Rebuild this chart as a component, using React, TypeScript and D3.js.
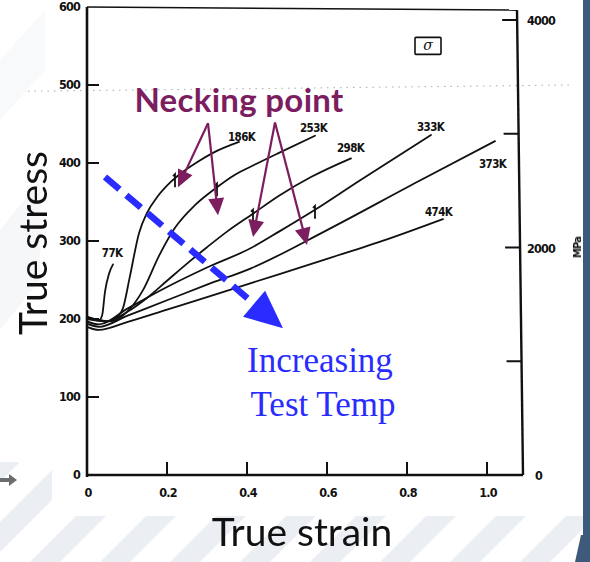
import React from "react";
import * as d3 from "d3";

const W = 590;
const H = 562;

// axis ticks
const stressTicks = [0, 100, 200, 300, 400, 500, 600];
const strainTicks = [0, 0.2, 0.4, 0.6, 0.8, 1.0];
const mpaTicks = [1000, 2000, 3000, 4000];
const mpaLabels = [0, 2000, 4000];

// [strain, stress]
const curve77K = [[0, 202], [0.03, 198], [0.038, 205], [0.045, 235], [0.055, 258], [0.065, 270]];
const curve186K = [[0, 203], [0.05, 197], [0.08, 205], [0.09, 214], [0.107, 254], [0.13, 310], [0.15, 336], [0.175, 356], [0.21, 376], [0.23, 385], [0.275, 401], [0.315, 413], [0.38, 427]];
const curve253K = [[0, 202], [0.06, 197], [0.1, 209], [0.14, 237], [0.18, 281], [0.22, 317], [0.27, 346], [0.32, 367], [0.37, 385], [0.42, 398], [0.48, 413], [0.57, 435]];
const curve298K = [[0, 200], [0.05, 197], [0.1, 209], [0.15, 227], [0.2, 249], [0.25, 271], [0.3, 292], [0.35, 312], [0.415, 335], [0.48, 358], [0.56, 382], [0.66, 406]];
const curve333K = [[0, 197], [0.03, 193], [0.1, 213], [0.2, 241], [0.3, 266], [0.41, 291], [0.48, 312], [0.57, 340], [0.68, 377], [0.86, 436]];
const curve373K = [[0, 194], [0.03, 190], [0.1, 204], [0.2, 224], [0.3, 244], [0.41, 265], [0.6, 314], [0.83, 377], [1.02, 428]];
const curve474K = [[0, 190], [0.03, 186], [0.1, 196], [0.2, 212], [0.3, 228], [0.41, 246], [0.6, 277], [0.75, 302], [0.89, 328]];

const tempNames = ["77K", "186K", "253K", "298K", "333K", "373K", "474K"];
const curves = [curve77K, curve186K, curve253K, curve298K, curve333K, curve373K, curve474K];
// label anchor [strain, stress] (text start, baseline)
const labelAt = [[0.037, 279], [0.3525, 428], [0.5325, 440], [0.625, 414], [0.825, 441], [0.98, 394], [0.845, 332]];
// necking strain on curves 186K..333K
const neckCurves = ["186K", "253K", "298K", "333K"];
const neckStrain = [0.22, 0.325, 0.415, 0.57];

// annotation arrows (strain, stress)
const neckFrom = [[0.3025, 451], [0.3025, 451], [0.47, 452], [0.47, 452]];
const neckTip = [[0.2275, 369], [0.3275, 333], [0.415, 305], [0.55, 295]];
const tempArrow = [[0.045, 382], [0.49, 188]];

const x = d3.scaleLinear().domain([0, 1.09]).range([87, 523]);
const y = d3.scaleLinear().domain([0, 600]).range([475, 7]);
const yR = d3.scaleLinear().domain([0, 4000]).range([475, 20]);

const line = d3
  .line<number[]>()
  .x((d) => x(d[0]))
  .y((d) => y(d[1]))
  .curve(d3.curveMonotoneX);

const tickFont = "'DejaVu Sans Condensed', 'DejaVu Sans', sans-serif";
const purple = "#7c1d60";
const blue = "#2a2cff";

// scanned right axis leans a little
const rightAxisX = (py: number) => x(1.09) + (x(1.075) - x(1.09)) * (y(0) - py) / (y(0) - y(596));

function interp(c: number[][], s: number) {
  for (let i = 1; i < c.length; i++) {
    if (s <= c[i][0]) {
      const t = (s - c[i - 1][0]) / (c[i][0] - c[i - 1][0]);
      return c[i - 1][1] + t * (c[i][1] - c[i - 1][1]);
    }
  }
  return c[c.length - 1][1];
}

function Arrow({ x1, y1, x2, y2, color, len, half, width, dash }: any) {
  const a = Math.atan2(y2 - y1, x2 - x1);
  const bx = x2 - len * Math.cos(a);
  const by = y2 - len * Math.sin(a);
  const px = -Math.sin(a) * half;
  const py = Math.cos(a) * half;
  return (
    <g>
      <line x1={x1} y1={y1} x2={bx + Math.cos(a) * 2} y2={by + Math.sin(a) * 2} stroke={color} strokeWidth={width} strokeDasharray={dash} />
      <path d={`M${x2},${y2}L${bx + px},${by + py}L${bx - px},${by - py}Z`} fill={color} />
    </g>
  );
}

export default function App() {
  const stripes = d3.range(-6, 14);
  return (
    <svg width={W} height={H} style={{ display: "block", position: "absolute", left: 0, top: 0 }}>
      <rect width={W} height={H} fill="#ffffff" />
      {/* faint slide stripes */}
      <g fill="#e7ebf2" opacity={0.8}>
        {stripes.map((i) => (
          <path key={i} d={`M${i * 70 - 40},${H}L${i * 70 - 10},${H}L${i * 70 + 90},${H - 100}L${i * 70 + 60},${H - 100}Z`} />
        ))}
        <path d="M0,330L0,230L40,180L40,280Z" opacity={0.5} />
        <path d="M0,120L0,60L45,10L45,70Z" opacity={0.35} />
      </g>
      {/* scanned page area */}
      <rect x={52} y={0} width={531} height={516} fill="#ffffff" />
      {/* right slide bar */}
      <path d={`M583,0L${W},0L${W},${H}L575,${H}L581,535L583,535Z`} fill="#3e5a7a" />
      {/* gray arrow at left */}
      <path d="M0,478L9,478L9,474L17,480L9,486L9,482L0,482Z" fill="#6d6d6d" />

      {/* dotted reference line */}
      <line x1={28} y1={y(492)} x2={570} y2={y(500)} stroke="#8a8a8a" strokeWidth={1} strokeDasharray="1.5 5" opacity={0.7} />

      {/* frame */}
      <g stroke="#111" fill="none">
        <line x1={x(0)} y1={y(600)} x2={x(0)} y2={y(0) + 2} strokeWidth={2.6} />
        <line x1={x(0)} y1={y(0)} x2={x(1.09)} y2={y(0)} strokeWidth={2.6} />
        <line x1={x(1.09)} y1={y(0)} x2={x(1.075)} y2={y(596)} strokeWidth={2.4} />
        <line x1={x(0)} y1={y(600)} x2={x(1.075)} y2={y(596)} strokeWidth={1.6} />
        {stressTicks.filter((t) => t > 0 && t < 600).map((t) => (
          <line key={t} x1={x(0)} x2={x(0) + 12} y1={y(t)} y2={y(t)} strokeWidth={2} />
        ))}
        {strainTicks.filter((t) => t > 0).map((t) => (
          <line key={t} x1={x(t)} x2={x(t)} y1={y(0)} y2={y(0) - 13} strokeWidth={2} />
        ))}
        {mpaTicks.map((t) => (
          <line key={t} x1={rightAxisX(yR(t)) - 15} x2={rightAxisX(yR(t))} y1={yR(t)} y2={yR(t)} strokeWidth={2} />
        ))}
      </g>

      {/* tick labels */}
      <g fontFamily={tickFont} fontWeight="bold" fontSize={12.5} fill="#111" letterSpacing={-0.8}>
        {stressTicks.map((t) => (
          <text key={t} x={x(0) - 7} y={y(t) + 4} textAnchor="end">{t}</text>
        ))}
        {strainTicks.map((t) => (
          <text key={t} x={x(t) + 1} y={y(0) + 22} textAnchor="middle">{t === 0 ? "0" : t.toFixed(1)}</text>
        ))}
        {mpaLabels.map((t) => (
          <text key={t} x={x(1.09) + (t === 0 ? 12 : 4)} y={yR(t) + 5} textAnchor="start">{t}</text>
        ))}
        <text transform={`translate(${x(1.09) + 58},${yR(2000)}) rotate(-90)`} textAnchor="middle" fontSize={11}>MPa</text>
      </g>

      {/* sigma box */}
      <rect x={x(0.82)} y={y(561)} width={26} height={17} fill="none" stroke="#111" strokeWidth={1.6} rx={1} />
      <text x={x(0.82) + 13} y={y(561) + 13} textAnchor="middle" fontFamily="'DejaVu Serif', serif" fontStyle="italic" fontSize={14} fill="#111">σ</text>

      {/* curves */}
      <g fill="none" stroke="#111" strokeWidth={1.8} strokeLinecap="round">
        {curves.map((c, i) => (
          <path key={tempNames[i]} d={line(c as any) || ""} />
        ))}
      </g>
      {/* necking markers */}
      <g fill="none" stroke="#111" strokeWidth={1.8}>
        {neckCurves.map((n, i) => {
          const c = curves[tempNames.indexOf(n)];
          const px = x(neckStrain[i]);
          const py = y(interp(c, neckStrain[i]));
          return <path key={n} d={`M${px - 2},${py - 2}L${px},${py - 4}L${px},${py + 9}`} />;
        })}
      </g>
      <g fontFamily={tickFont} fontWeight="bold" fontSize={11.5} fill="#111" letterSpacing={-0.6}>
        {tempNames.map((n, i) => (
          <text key={n} x={x(labelAt[i][0])} y={y(labelAt[i][1])}>{n}</text>
        ))}
      </g>

      {/* blue dashed arrow */}
      <Arrow
        x1={x(tempArrow[0][0])} y1={y(tempArrow[0][1])}
        x2={x(tempArrow[1][0])} y2={y(tempArrow[1][1])}
        color={blue} len={38} half={17} width={6.5} dash="19 9"
      />
      <g fontFamily="'Liberation Serif', 'Times New Roman', serif" fontSize={35} fill={blue} textAnchor="middle">
        <text x={320} y={372}>Increasing</text>
        <text x={323} y={416}>Test Temp</text>
      </g>

      {/* necking annotation */}
      <g>
        {neckTip.map((t, i) => (
          <Arrow key={i}
            x1={x(neckFrom[i][0])} y1={y(neckFrom[i][1])}
            x2={x(t[0])} y2={y(t[1])}
            color={purple} len={17} half={8} width={2.2}
          />
        ))}
      </g>
      <text x={239} y={112} textAnchor="middle" fontFamily="Lato, 'Open Sans', sans-serif" fontWeight="bold" fontSize={33} letterSpacing={0.3} fill={purple}>Necking point</text>

      {/* axis titles */}
      <g fontFamily="Lato, 'Noto Sans', sans-serif" fontSize={39} fill="#111">
        <text transform="translate(47,243) rotate(-90)" textAnchor="middle">True stress</text>
        <text x={302} y={546} textAnchor="middle">True strain</text>
      </g>
    </svg>
  );
}
